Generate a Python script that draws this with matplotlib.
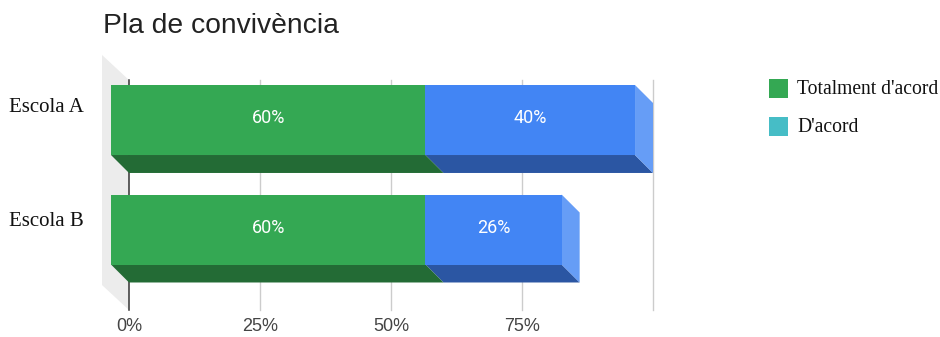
import matplotlib
matplotlib.use('Agg')
import matplotlib.pyplot as plt
from matplotlib.patches import Polygon, Rectangle

schools = ['Escola A', 'Escola B']
totalment = [60, 60]
dacord = [40, 26]
ticks = [0, 25, 50, 75, 100]
tick_labels = ['0%', '25%', '50%', '75%', '']
legend_labels = ["Totalment d'acord", "D'acord"]

GREEN = '#34a853'
GREEN_DARK = '#236b35'
BLUE = '#4285f4'
BLUE_SIDE = '#669df6'
BLUE_DARK = '#2b56a3'
LEGEND_CYAN = '#46bdc6'

# 3d depth of the bars, in data units (percent, category)
DX = 3.435
DY = 0.164
BAR_H = 0.639

fig = plt.figure(figsize=(9.4, 3.37), dpi=100)
ax = fig.add_axes([95 / 940, 1 - 320 / 337, 575 / 940, 275 / 337])
ax.set_xlim(-6.49, 103.24)
ax.set_ylim(1.826, -0.685)
ax.axis('off')

# grey back wall on the left
wall = Polygon([(-5.15, -0.594), (0, -0.365), (0, 1.735), (-5.15, 1.507)],
               closed=True, facecolor='#ececec', edgecolor='none', zorder=0)
ax.add_patch(wall)

# gridlines on the back plane
for t in ticks:
    col = '#333333' if t == 0 else '#cccccc'
    ax.plot([t, t], [-0.365, 1.735], color=col, lw=1.1 if t == 0 else 1, zorder=1)


def bar3d(x0, width, yc, front, side, bottom, draw_side=True):
    # front face sits DX to the left of the back plane, back face shifted down-right
    fx0 = x0 - DX
    fx1 = x0 + width - DX
    top = yc - BAR_H / 2
    bot = yc + BAR_H / 2
    ax.add_patch(Polygon([(fx0, bot), (fx1, bot), (fx1 + DX, bot + DY), (fx0 + DX, bot + DY)],
                         closed=True, facecolor=bottom, edgecolor='none', zorder=2))
    if draw_side:
        ax.add_patch(Polygon([(fx1, top), (fx1 + DX, top + DY), (fx1 + DX, bot + DY), (fx1, bot)],
                             closed=True, facecolor=side, edgecolor='none', zorder=2))
    ax.add_patch(Rectangle((fx0, top), width, BAR_H, facecolor=front,
                           edgecolor='none', zorder=3))
    ax.text(fx0 + width / 2, yc - 0.015, f'{width}%', color='white', fontsize=13,
            ha='center', va='center', family='Roboto', zorder=4)


for i, name in enumerate(schools):
    bar3d(totalment[i], dacord[i], i, BLUE, BLUE_SIDE, BLUE_DARK)
    bar3d(0, totalment[i], i, GREEN, GREEN, GREEN_DARK, draw_side=False)
    ax.text(-8.7, i * 1.04 - 0.11, name, fontsize=15, family='Liberation Serif',
            ha='right', va='center', color='#111111', clip_on=False)

for t, lab in zip(ticks, tick_labels):
    ax.text(t, 1.925, lab, fontsize=13, family='Liberation Sans', color='#444444',
            ha='center', va='baseline', clip_on=False)

fig.text(103 / 940, 1 - 26 / 337, 'Pla de convivència', fontsize=20.3,
         family='Liberation Sans', color='#222222', ha='left', va='center')

# legend
for k, (lab, col) in enumerate(zip(legend_labels, [GREEN, LEGEND_CYAN])):
    yc = 89 + k * 37
    fig.patches.append(Rectangle((769 / 940, 1 - (yc + 9.5) / 337), 19 / 940, 19 / 337,
                                 transform=fig.transFigure, facecolor=col,
                                 edgecolor='none'))
    fig.text(797 / 940, 1 - (yc + 1) / 337, lab, fontsize=14.1, family='Liberation Serif',
             color='#111111', ha='left', va='center')

fig.savefig('out.png', dpi=100)
